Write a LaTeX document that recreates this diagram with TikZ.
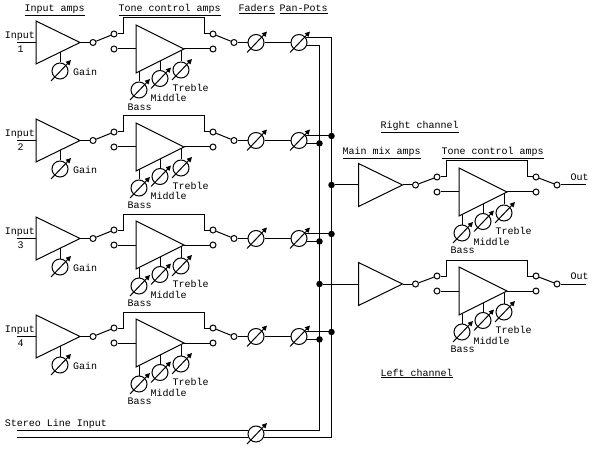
\documentclass[tikz,border=0pt]{standalone}
\usepackage{fontspec}
\setmainfont{Liberation Mono}
\usetikzlibrary{arrows.meta}

\newcommand{\potarrow}[1]{\draw[-{Triangle[length=5pt,width=5pt]}] ([shift={(-9,10)}]#1.center) -- ([shift={(11,-11)}]#1.center);}

\tikzset{
    term/.style={circle, draw, fill=white, minimum size=6pt, inner sep=0pt},
    pot/.style={circle, draw, minimum size=16pt, inner sep=0pt},
    junct/.style={circle, fill=black, minimum size=6.5pt, inner sep=0pt},
    lbl/.style={anchor=base west, inner sep=0pt},
    % Ampli + borne de sortie
    ampli/.pic={
        \coordinate (a) at (36,21);
        \coordinate (b) at (36,64);
        \coordinate (tip) at (80,42.5);
        \coordinate (in) at (36,42.5);
        \draw (a) -- (tip) -- (b) -- cycle;
        \node[term] (out) at (93,42.5) {};
        \draw (tip) -- (out);
    },
    % Ampli de tonalite + potentiometres
    tonectl/.pic={
        \coordinate (a) at (136,25);
        \coordinate (b) at (136,73);
        \coordinate (tip) at (184,49);
        \coordinate (in) at (136,49);
        \draw (a) -- (tip) -- (b) -- cycle;
        \node[term] (sa) at (114,34) {};
        \node[term] (sb) at (114,49) {};
        \node[term] (sc) at (213,34) {};
        \node[term] (sd) at (213,49) {};
        \draw (sb) -- (in);
        \draw (tip) -- (sd);
        \draw (sa) -- (123,34) -- (123,18) -- (204,18) -- (204,34) -- (sc);
        \node[pot] (bass) at (139,90) {};
        \node[pot] (middle) at (160,78.5) {};
        \node[pot] (treble) at (181,70) {};
        \coordinate (tb) at (139,71.5);
        \coordinate (tm) at (160,61);
        \coordinate (tt) at (181,50.5);
        \draw (tb) -- (bass);
        \draw (tm) -- (middle);
        \draw (tt) -- (treble);
        \potarrow{bass}
        \potarrow{middle}
        \potarrow{treble}
        \node[lbl] (lbass) at (127,110.5) {Bass};
        \node[lbl] (lmiddle) at (150,102) {Middle};
        \node[lbl] (ltreble) at (172,91.3) {Treble};
    }
}

\begin{document}
\begin{tikzpicture}[x=1pt, y=-1pt, line width=1pt]
    \useasboundingbox (0,0) rectangle (594,449);

    % Titres
    \node[lbl] (tinput) at (24,12) {\underline{Input amps}};
    \node[lbl] (ttone) at (118,12) {\underline{Tone control amps}};
    \node[lbl] (tfader) at (238,12) {\underline{Faders}};
    \node[lbl] (tpan) at (279,12) {\underline{Pan-Pots}};
    \node[lbl] (tright) at (380,128.3) {\underline{Right channel}};
    \node[lbl] (tmain) at (342,154.3) {\underline{Main mix amps}};
    \node[lbl] (ttoner) at (441,154.3) {\underline{Tone control amps}};
    \node[lbl] (tleft) at (380,376) {\underline{Left channel}};

    % Bus
    \coordinate (busL) at (319.5,0);
    \coordinate (busR) at (331.5,0);

    % Voies d'entree
    \foreach \n/\yy in {1/0,2/98,3/196,4/294} {
        \begin{scope}[shift={(0,\yy)}]
            \node[lbl] (input\n) at (4.5,38.3) {Input};
            \node[lbl] (num\n) at (17,52.3) {\n};
            \coordinate (src\n) at (17,42.5);
            \pic (amp\n) at (0,0) {ampli};
            \draw (src\n) -- (amp\n in);
            \node[pot] (gain\n) at (60,71) {};
            \coordinate (gt\n) at (60,52.3);
            \draw (gt\n) -- (gain\n);
            \potarrow{gain\n}
            \node[lbl] (lgain\n) at (72.7,75.3) {Gain};
            \pic (tone\n) at (0,0) {tonectl};
            \draw (amp\n out) -- (tone\n sa);
            \node[term] (lug\n) at (234,42.5) {};
            \draw (tone\n sc) -- (lug\n);
            \node[pot] (fader\n) at (256,42.5) {};
            \node[pot] (pan\n) at (299,42.5) {};
            \potarrow{fader\n}
            \potarrow{pan\n}
            \draw (lug\n) -- (fader\n);
            \draw (fader\n) -- (pan\n);
            \coordinate (tr\n) at (pan\n.32 -| busR);
            \coordinate (tl\n) at (pan\n.-20 -| busL);
            \draw (pan\n.32) -- (tr\n);
            \draw (pan\n.-20) -- (tl\n);
        \end{scope}
    }

    % Points de jonction
    \foreach \n in {2,3,4} {
        \node[junct] (jr\n) at (tr\n) {};
        \node[junct] (jl\n) at (tl\n) {};
    }

    % Entree ligne stereo
    \node[lbl] (lline) at (4.5,426.3) {Stereo Line Input};
    \node[pot] (line) at (256,434) {};
    \potarrow{line}
    \coordinate (lineA) at (line.153 -| src1);
    \coordinate (lineB) at (line.207 -| src1);
    \draw (lineA) -- (line.153);
    \draw (lineB) -- (line.207);
    \draw (line.27) -| (tl1);
    \draw (line.-27) -| (tr1);

    % Voies droite et gauche
    \foreach \c/\xb/\ya/\yb in {R/331.5/142.5/143,L/319.5/241.5/242} {
        \pic (main\c) at (322.5,\ya) {ampli};
        \pic (tone\c) at (323,\yb) {tonectl};
        \node[junct] (mix\c) at (\xb,42.5+\ya) {};
        \draw (mix\c) -- (main\c in);
        \draw (main\c out) -- (tone\c sa);
        \node[term] (lug\c) at (557,42.5+\ya) {};
        \draw (tone\c sc) -- (lug\c);
        \coordinate (out\c) at (586,42.5+\ya);
        \draw (lug\c) -- (out\c);
        \node[lbl] (lout\c) at (570,38.2+\ya) {Out};
    }
\end{tikzpicture}
\end{document}
